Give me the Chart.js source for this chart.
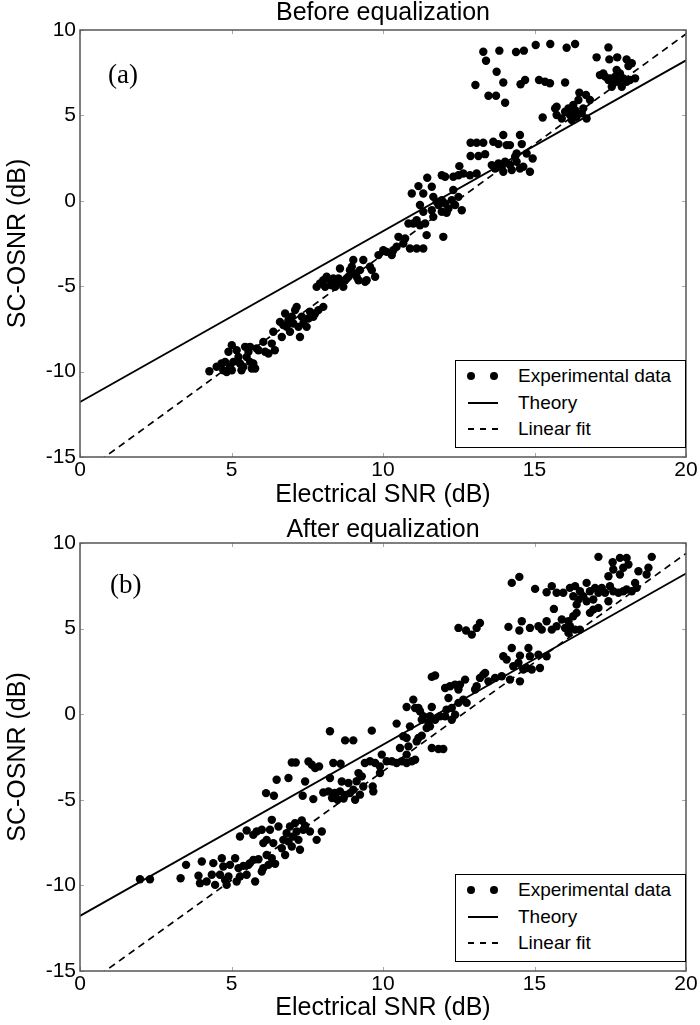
<!DOCTYPE html>
<html lang="en">
<head>
<meta charset="UTF-8">
<title>SC-OSNR vs electrical SNR</title>
<script src="https://cdn.jsdelivr.net/npm/chart.js"></script>
<style>
    body { margin: 0; background: #fff; }
    #page { position: relative; width: 700px; height: 1025px; }
    canvas { position: absolute; left: 0; }
    .tag {
        position: absolute;
        font-family: "Liberation Serif", serif;
        font-size: 27px;
        line-height: 27px;
    }
    .legend {
        position: absolute;
        left: 455px;
        width: 229px;
        height: 86px;
        border: 1px solid #000;
        background: #fff;
        font-family: "Liberation Sans", Arial, sans-serif;
        font-size: 19px;
    }
    .row { position: absolute; left: 0; width: 100%; height: 24px; }
    .row span.txt { position: absolute; left: 62px; top: 0; line-height: 24px; }
    .dot { position: absolute; width: 8px; height: 8px; border-radius: 50%; background: #000; top: 8px; }
    .solid { position: absolute; left: 12px; width: 30px; height: 2px; top: 11px; background: #000; }
    .dash { position: absolute; left: 12px; width: 30px; height: 2px; top: 11px;
            background: repeating-linear-gradient(90deg, #000 0 6px, transparent 6px 12px); }
</style>
</head>
<body>
<div id="page">
    <canvas id="before" width="700" height="512" style="top:0"></canvas>
    <canvas id="after" width="700" height="513" style="top:512px"></canvas>

    <div class="tag" style="left:108px; top:61px">(a)</div>
    <div class="tag" style="left:110px; top:571px">(b)</div>

    <div class="legend" style="top:360px">
        <div class="row" style="top:3px"><span class="dot" style="left:11px"></span><span class="dot" style="left:34px"></span><span class="txt">Experimental data</span></div>
        <div class="row" style="top:30px"><span class="solid"></span><span class="txt">Theory</span></div>
        <div class="row" style="top:56px"><span class="dash"></span><span class="txt">Linear fit</span></div>
    </div>
    <div class="legend" style="top:874px">
        <div class="row" style="top:3px"><span class="dot" style="left:11px"></span><span class="dot" style="left:34px"></span><span class="txt">Experimental data</span></div>
        <div class="row" style="top:30px"><span class="solid"></span><span class="txt">Theory</span></div>
        <div class="row" style="top:56px"><span class="dash"></span><span class="txt">Linear fit</span></div>
    </div>
</div>

<script>
    // axes
    const xTicks = [0, 5, 10, 15, 20];
    const yTicks = [-15, -10, -5, 0, 5, 10];

    // theory and linear fit end points (x = 0 and x = 20)
    const lineSnr = [0, 20];
    const theoryBefore = [-11.78, 8.22];
    const fitBefore = [-16.06, 9.77];
    const theoryAfter = [-11.78, 8.22];
    const fitAfter = [-16.06, 9.39];

    // before equalization, measured points
    const beforeSnr = [
        4.27, 4.51, 4.67, 4.73, 4.79, 4.84, 4.95, 5.01, 5.06, 4.90,
        5.01, 5.17, 5.23, 5.28, 5.33, 5.39, 5.45, 5.50, 5.56, 5.61,
        5.67, 5.72, 5.78, 5.61, 5.83, 5.89, 6.05, 6.11, 6.22, 6.33,
        6.38, 6.43, 6.60, 6.66, 6.71, 6.77, 6.82, 6.88, 6.93, 6.99,
        7.04, 7.10, 7.15, 7.21, 7.26, 7.32, 7.37, 7.48, 7.54, 7.59,
        7.70, 7.76, 7.87, 8.03, 7.81, 7.92, 8.03, 8.09, 8.14, 8.25,
        8.31, 8.36, 8.42, 8.47, 8.53, 8.58, 8.64, 8.69, 8.75, 8.80,
        8.86, 8.91, 8.97, 9.02, 9.08, 9.13, 9.19, 9.24, 9.35, 9.41,
        9.46, 9.57, 9.63, 9.74, 9.85, 10.01, 10.12, 10.29, 10.34, 10.45,
        10.51,
        13.31, 13.40, 13.84, 14.39, 14.65, 15.04, 15.52, 16.06, 16.34, 13.75,
        13.05, 13.97, 14.54, 14.69, 15.15, 15.35, 15.51, 16.01, 13.48, 13.73,
        14.03, 17.44, 17.05, 17.47, 17.73, 18.04, 18.10, 17.16, 17.33, 17.49,
        17.66, 17.82, 17.93, 17.77, 17.60, 17.44, 17.55, 17.88, 18.15, 18.32,
        18.04, 17.27, 17.71, 18.21, 15.27, 15.68, 15.73, 15.90, 16.01, 16.12,
        16.17, 16.23, 16.34, 16.39, 16.45, 16.48, 16.61, 16.70, 16.83, 16.72,
        16.56, 15.73, 16.28, 12.89, 13.09, 13.31, 13.64, 13.81, 13.97, 14.08,
        14.19, 14.52, 14.58, 12.89, 13.15, 13.37, 12.52, 13.59, 13.70, 13.81,
        13.92, 14.03, 14.19, 14.25, 14.36, 14.41, 14.52, 14.63, 14.74, 14.85,
        14.94, 14.41, 13.97, 11.46, 11.94, 12.05, 12.32, 12.49, 12.65, 12.87,
        13.09, 10.95, 11.17, 11.33, 11.61, 11.66, 11.77, 11.83, 11.94, 12.05,
        12.16, 12.27, 12.32, 12.38, 12.49, 12.60, 11.22, 11.33, 11.61, 11.66,
        11.94, 12.10, 10.84, 11.00, 11.11, 11.22, 11.39, 10.73, 11.44, 11.99,
        10.67, 10.89, 11.11, 11.33
    ];
    const beforeOsnr = [
        -9.98, -9.72, -9.53, -9.92, -9.43, -10.02, -9.72, -9.92, -9.43, -8.84,
        -8.45, -8.75, -9.14, -9.53, -9.92, -9.72, -8.55, -9.14, -8.84, -9.43,
        -9.82, -9.53, -9.82, -8.55, -8.65, -8.75, -8.26, -8.84, -8.94, -8.36,
        -7.67, -8.75, -7.09, -7.97, -7.28, -6.60, -7.38, -6.99, -7.67, -6.79,
        -7.18, -6.40, -6.21, -7.38, -7.97, -6.79, -7.18, -7.38, -6.89, -6.50,
        -6.79, -6.60, -6.40, -6.21, -5.04, -4.84, -4.65, -5.04, -4.45, -4.65,
        -4.94, -4.55, -5.04, -4.74, -4.55, -3.96, -4.84, -5.04, -4.65, -4.55,
        -4.45, -4.06, -3.86, -3.47, -4.26, -4.45, -4.65, -4.06, -3.47, -4.74,
        -4.65, -3.86, -4.06, -4.45, -3.18, -2.89, -2.99, -3.18, -2.89, -2.69,
        -2.11,
        8.73, 8.20, 8.79, 8.71, 8.79, 9.12, 9.18, 8.96, 9.18, 7.56,
        6.78, 6.93, 6.82, 7.07, 7.07, 6.97, 6.88, 6.93, 6.15, 6.15,
        5.74, 8.98, 8.40, 8.28, 8.40, 8.28, 7.89, 7.36, 7.27, 7.17,
        7.27, 7.46, 7.17, 6.97, 6.88, 7.07, 6.68, 6.68, 7.07, 7.17,
        6.97, 7.46, 7.66, 8.05, 4.88, 5.41, 5.02, 4.82, 5.21, 5.41,
        5.02, 4.73, 5.31, 4.92, 5.90, 6.33, 5.41, 6.19, 5.90, 4.82,
        5.12, 5.51, 5.61, 3.40, 3.40, 3.40, 3.46, 3.32, 3.85, 3.26,
        3.26, 3.85, 3.32, 2.62, 2.62, 2.73, 2.03, 2.09, 1.89, 2.19,
        1.99, 2.29, 2.09, 1.80, 2.58, 2.77, 1.89, 1.99, 2.77, 1.70,
        2.48, 2.29, 1.70, 1.35, 1.50, 1.41, 1.41, 1.50, 1.60, 1.50,
        1.60, 0.43, 0.86, 0.43, 0.82, 0.23, -0.06, -0.25, 0.04, -0.16,
        -0.45, 0.04, 0.63, -0.25, 0.23, -0.55, -0.25, -0.64, -0.55, -0.94,
        -0.64, -0.70, -1.33, -1.33, -1.13, -1.43, -1.33, -2.21, -2.01, -2.11,
        -2.50, -2.79, -2.79, -2.79
    ];

    // after equalization, measured points
    const afterSnr = [
        1.98, 2.31, 3.32, 3.50, 3.91, 3.96, 4.02, 4.18, 4.35, 4.40,
        4.46, 4.62, 4.68, 4.73, 4.79, 4.84, 4.90, 4.95, 5.12, 5.17,
        5.23, 5.28, 5.39, 5.50, 5.56, 5.61, 5.72, 5.78, 5.89, 6.00,
        6.05, 6.16, 6.22, 6.33, 6.44, 5.28, 5.50, 5.72, 5.83, 6.00,
        6.05, 6.16, 6.27, 6.33, 6.38, 6.55, 6.66, 6.71, 6.77, 6.82,
        6.88, 6.93, 6.99, 7.04, 7.10, 7.15, 7.21, 7.26, 7.32, 7.37,
        7.43, 7.59, 7.81, 7.98, 6.14, 6.40, 6.49, 6.88, 6.99, 7.12,
        7.43, 7.54, 7.65, 7.76, 7.89, 7.35, 7.70, 8.03, 8.20, 8.25,
        8.36, 8.60, 8.42, 8.58, 8.75, 8.64, 8.86, 8.91, 8.75, 8.25,
        8.32, 8.50, 8.70, 8.40,
        9.13, 9.19, 9.30, 9.35, 9.02, 9.08, 9.24, 9.66, 9.68, 9.02,
        12.49, 12.74, 12.93, 13.09, 13.20, 14.14, 14.50, 14.58, 14.85, 15.13,
        13.97, 14.25, 14.52, 14.80, 14.85, 14.08, 14.30, 14.47, 14.63, 14.74,
        14.91, 15.13, 15.18, 14.52, 14.19, 13.92, 13.70, 13.48, 13.31, 13.20,
        13.09, 13.04, 13.37, 11.61, 11.72, 12.05, 12.21, 12.38, 12.49, 12.54,
        12.71, 12.65, 12.76, 12.16, 12.27, 12.10, 12.05, 12.27, 12.38, 12.49,
        11.88, 11.72, 11.55, 11.50, 11.33, 11.22, 11.28, 11.44, 11.55, 11.00,
        10.78, 11.06, 11.17, 11.61, 10.45, 10.89, 9.63, 9.40, 9.57, 9.74,
        9.90, 9.96, 9.90, 10.12, 10.29, 10.45, 10.62, 10.78, 10.95, 11.06,
        10.56, 10.84, 10.78, 10.67, 10.78, 11.17, 11.28, 11.11, 11.61, 11.83,
        11.99,
        17.11, 17.58, 17.82, 18.04, 18.87, 17.60, 17.93, 18.10, 17.82, 18.43,
        18.76, 18.70, 17.44, 14.25, 14.50, 15.02, 15.40, 15.57, 15.73, 15.95,
        16.17, 16.34, 16.50, 16.72, 16.61, 16.83, 17.00, 17.11, 17.22, 17.33,
        17.49, 17.60, 17.77, 17.93, 18.04, 18.21, 18.32, 18.37, 16.28, 16.45,
        16.72, 16.94, 16.39, 16.94, 16.83, 17.11, 17.44, 15.64, 15.90, 16.12,
        16.28, 16.39, 16.17, 16.34, 16.50, 16.12, 16.01, 15.24, 15.40, 15.57,
        15.73, 15.40
    ];
    const afterOsnr = [
        -9.64, -9.64, -9.58, -8.80, -9.44, -9.87, -8.60, -9.77, -9.38, -8.70,
        -9.97, -9.38, -8.41, -8.90, -9.68, -9.97, -9.48, -8.80, -8.41, -9.77,
        -8.99, -9.48, -8.86, -9.38, -8.80, -8.70, -8.51, -9.77, -8.47, -9.19,
        -8.99, -8.22, -8.80, -8.41, -8.74, -7.14, -6.79, -7.05, -6.85, -6.75,
        -7.53, -7.34, -6.75, -6.17, -7.53, -6.56, -7.83, -7.34, -8.22, -6.95,
        -7.44, -6.56, -7.73, -7.14, -6.36, -6.85, -7.34, -7.92, -6.21, -6.75,
        -6.52, -6.85, -7.34, -6.85, -4.61, -4.76, -3.83, -3.73, -2.82, -2.82,
        -3.93, -2.76, -2.95, -3.15, -3.05, -4.76, -4.96, -4.57, -4.51, -3.73,
        -2.85, -2.89, -4.80, -4.51, -4.71, -3.93, -4.02, -4.61, -1.53, -1.00,
        -4.90, -5.00, -4.92, -4.60,
        -3.92, -3.44, -3.63, -4.22, -4.41, -5.00, -4.70, -4.22, -4.51, -1.53,
        5.04, 4.89, 4.65, 5.04, 5.33, 5.10, 4.89, 5.43, 5.04, 5.14,
        3.39, 3.87, 3.42, 3.87, 3.39, 3.19, 2.80, 3.00, 2.61, 2.70,
        2.61, 3.48, 2.70, 1.92, 2.02, 2.22, 2.12, 1.92, 2.31, 2.12,
        1.63, 1.44, 2.41, 2.18, 2.26, 1.53, 1.63, 1.73, 1.44, 1.73,
        2.02, 0.85, 0.66, 0.95, 0.36, 0.27, -0.12, -0.32, -0.03, 0.66,
        -0.12, -0.32, -0.12, -0.51, -0.12, 0.17, -0.32, -0.81, -0.71, 0.85,
        0.42, 0.36, 0.36, 0.42, -0.55, -0.71, -0.96, -2.85, -2.75, -2.85,
        -3.05, -2.36, -3.44, -2.75, -2.75, -2.85, -2.75, -2.85, -2.75, -2.66,
        -1.97, -1.88, -2.36, -1.29, -1.39, -1.39, -1.25, -1.59, -1.97, -2.03,
        -2.03,
        9.19, 8.88, 9.13, 9.13, 9.19, 8.45, 8.55, 8.74, 8.16, 8.35,
        8.55, 8.16, 8.06, 7.67, 8.02, 7.32, 7.12, 7.48, 7.09, 7.09,
        7.38, 7.48, 7.18, 7.67, 6.89, 7.18, 7.38, 7.09, 7.38, 7.09,
        7.48, 7.18, 7.09, 7.18, 7.28, 7.18, 7.67, 7.38, 6.89, 6.70,
        6.60, 6.70, 6.40, 6.11, 5.92, 6.21, 6.60, 6.15, 5.53, 5.43,
        5.72, 5.92, 5.14, 4.94, 4.94, 4.75, 5.04, 4.94, 5.43, 4.94,
        5.14, 3.38
    ];

    const sans = 'Liberation Sans, Arial, sans-serif';

    // box round the plot and the small inward ticks on all four sides
    const frameBox = {
        id: 'frameBox',
        afterDraw(chart) {
            const { ctx, chartArea: a, scales: { x, y } } = chart;
            ctx.save();
            ctx.strokeStyle = '#a8a8a8';
            ctx.lineWidth = 1;
            ctx.beginPath();
            xTicks.forEach(v => {
                const px = Math.round(x.getPixelForValue(v)) + 0.5;
                ctx.moveTo(px, a.bottom); ctx.lineTo(px, a.bottom - 4);
                ctx.moveTo(px, a.top); ctx.lineTo(px, a.top + 4);
            });
            yTicks.forEach(v => {
                const py = Math.round(y.getPixelForValue(v)) + 0.5;
                ctx.moveTo(a.left, py); ctx.lineTo(a.left + 4, py);
                ctx.moveTo(a.right, py); ctx.lineTo(a.right - 4, py);
            });
            ctx.stroke();
            ctx.strokeStyle = '#555';
            ctx.lineWidth = 1.5;
            ctx.strokeRect(a.left, a.top, a.right - a.left, a.bottom - a.top);
            ctx.restore();
        }
    };

    function drawPanel(canvasId, title, snr, osnr, theory, fit, titlePad, xAxisHeight) {
        const points = snr.map((v, i) => ({ x: v, y: osnr[i] }));
        const line = vals => lineSnr.map((v, i) => ({ x: v, y: vals[i] }));

        new Chart(document.getElementById(canvasId), {
            type: 'scatter',
            data: {
                datasets: [
                    {
                        label: 'Experimental data',
                        data: points,
                        pointRadius: 4.2,
                        pointBackgroundColor: '#000',
                        pointBorderWidth: 0
                    },
                    {
                        label: 'Theory',
                        data: line(theory),
                        showLine: true,
                        borderColor: '#000',
                        borderWidth: 1.9,
                        pointRadius: 0,
                        clip: 0
                    },
                    {
                        label: 'Linear fit',
                        data: line(fit),
                        showLine: true,
                        borderColor: '#000',
                        borderWidth: 1.7,
                        borderDash: [7, 5],
                        pointRadius: 0,
                        clip: 0
                    }
                ]
            },
            options: {
                responsive: false,
                animation: false,
                devicePixelRatio: 1,
                layout: { padding: { left: 0, right: 14, top: 0, bottom: 0 } },
                plugins: {
                    legend: { display: false },
                    tooltip: { enabled: false },
                    title: {
                        display: true,
                        text: title,
                        fullSize: false,
                        color: '#000',
                        font: { family: sans, size: 25, weight: 'normal', lineHeight: 1 },
                        padding: titlePad
                    }
                },
                scales: {
                    x: {
                        type: 'linear',
                        min: 0,
                        max: 20,
                        grid: { display: false, drawTicks: false },
                        border: { display: false },
                        ticks: { stepSize: 5, color: '#000', font: { family: sans, size: 21 }, padding: 1, maxRotation: 0 },
                        title: {
                            display: true,
                            text: 'Electrical SNR (dB)',
                            color: '#000',
                            font: { family: sans, size: 25 },
                            padding: { top: 0, bottom: 2 }
                        },
                        afterFit: s => { s.height = xAxisHeight; }
                    },
                    y: {
                        type: 'linear',
                        min: -15,
                        max: 10,
                        grid: { display: false, drawTicks: false },
                        border: { display: false },
                        ticks: { stepSize: 5, color: '#000', font: { family: sans, size: 21 }, padding: 4 },
                        title: {
                            display: true,
                            text: 'SC-OSNR (dB)',
                            color: '#000',
                            font: { family: sans, size: 25 },
                            padding: { top: 3, bottom: 0 }
                        },
                        afterFit: s => { s.width = 80; }
                    }
                }
            },
            plugins: [frameBox]
        });
    }

    drawPanel('before', 'Before equalization', beforeSnr, beforeOsnr, theoryBefore, fitBefore,
        { top: 1, bottom: 4 }, 55);
    drawPanel('after', 'After equalization', afterSnr, afterOsnr, theoryAfter, fitAfter,
        { top: 6, bottom: 0 }, 54);
</script>
</body>
</html>
